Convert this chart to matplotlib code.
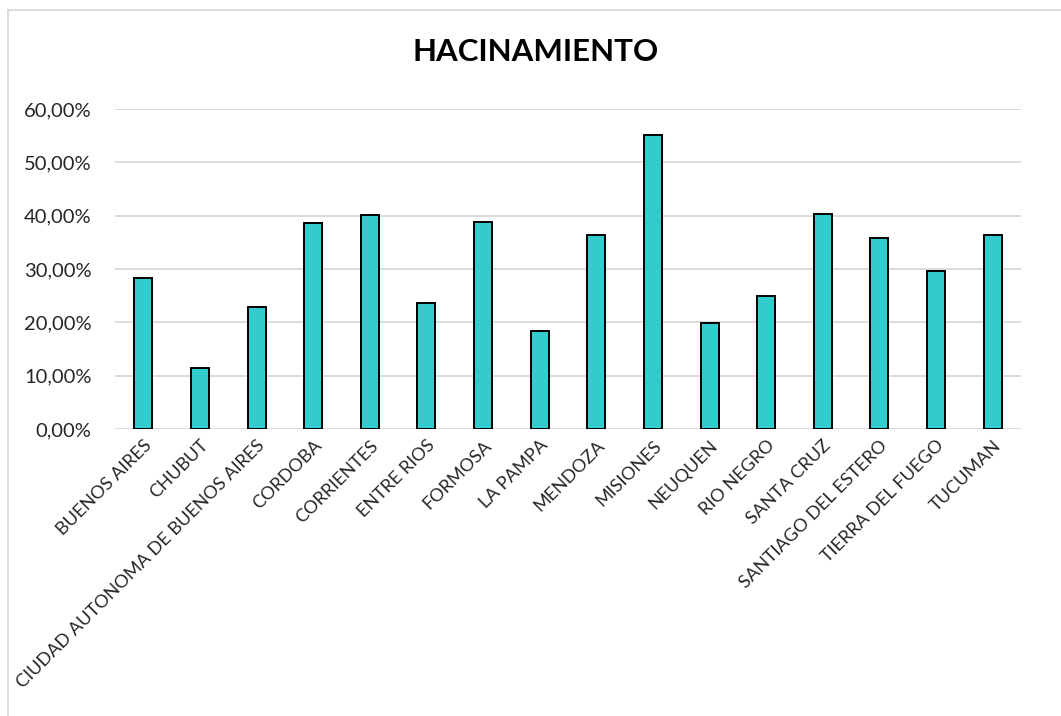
import matplotlib
matplotlib.use("Agg")
import matplotlib.pyplot as plt
from matplotlib.ticker import FuncFormatter, MultipleLocator
from matplotlib.lines import Line2D

categories = ["BUENOS AIRES", "CHUBUT", "CIUDAD AUTONOMA DE BUENOS AIRES", "CORDOBA",
              "CORRIENTES", "ENTRE RIOS", "FORMOSA", "LA PAMPA", "MENDOZA", "MISIONES",
              "NEUQUEN", "RIO NEGRO", "SANTA CRUZ", "SANTIAGO DEL ESTERO",
              "TIERRA DEL FUEGO", "TUCUMAN"]
values = [0.2825, 0.114, 0.229, 0.386, 0.401, 0.236, 0.389, 0.183, 0.364, 0.552,
          0.199, 0.249, 0.4025, 0.3575, 0.297, 0.364]
title = "HACINAMIENTO"

plt.rcParams['font.family'] = ['Lato', 'DejaVu Sans']

W, H = 1061, 716
fig = plt.figure(figsize=(W/100, H/100), dpi=100)
ax = fig.add_axes([115/W, 1-429/H, (1021-115)/W, (429-109)/H])

x = range(len(categories))
ax.bar(x, values, width=0.32, color="#33CCCC", edgecolor="black", linewidth=1.4, zorder=3)
ax.set_xlim(-0.5, len(categories)-0.5)
ax.set_ylim(0, 0.6)
ax.yaxis.set_major_locator(MultipleLocator(0.1))
ax.yaxis.set_major_formatter(FuncFormatter(lambda v, p: f"{v*100:.2f}%".replace(".", ",")))
ax.grid(axis="y", color="#d9d9d9", linewidth=1.3, zorder=0)
for s in ax.spines.values():
    s.set_visible(False)
ax.tick_params(axis="both", length=0)
ax.tick_params(axis="y", labelsize=14.5, labelcolor="#262626", pad=17)
ax.set_xticks(list(x))
ax.set_xticklabels(categories, rotation=45, ha="right", va="top", rotation_mode="anchor",
                   fontsize=13.1, color="#262626")
ax.tick_params(axis="x", pad=6)

fig.text(536/W, 1-52/H, title, ha="center", va="center", fontsize=22.5,
         fontweight="bold", color="black")

fig.add_artist(Line2D([8/W, 8/W], [0, 1-10/H], color="#d9d9d9", linewidth=1.3))
fig.add_artist(Line2D([8/W, 1], [1-10/H, 1-10/H], color="#d9d9d9", linewidth=1.3))

fig.savefig("out.png", dpi=100)
